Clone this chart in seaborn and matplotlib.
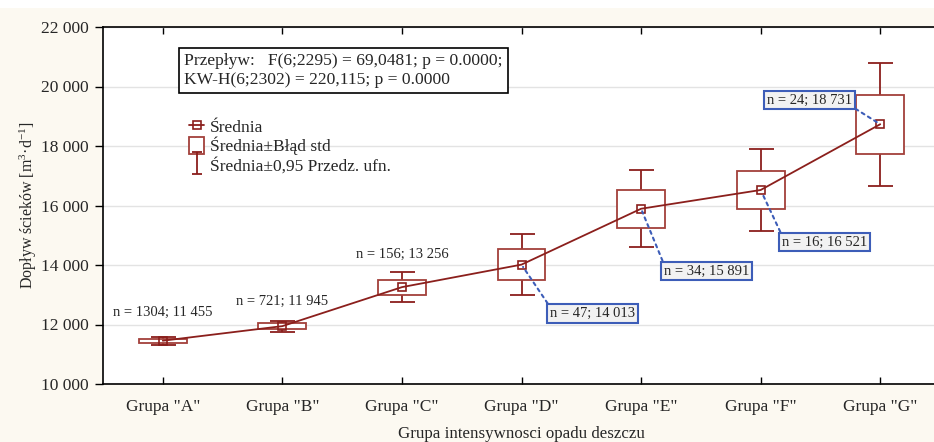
import numpy as np
import pandas as pd
import seaborn as sns
import matplotlib
matplotlib.use('Agg')
from matplotlib import pyplot as plt
from matplotlib.patches import Rectangle
from matplotlib.lines import Line2D
from matplotlib.path import Path
from matplotlib.ticker import FuncFormatter

# data
groups = ['Grupa "A"', 'Grupa "B"', 'Grupa "C"', 'Grupa "D"', 'Grupa "E"', 'Grupa "F"', 'Grupa "G"']
n_obs = [1304, 721, 156, 47, 34, 16, 24]
means = [11455, 11945, 13256, 14013, 15891, 16521, 18731]
std_err = [70, 95, 252, 514, 640, 644, 1000]
ci95 = [137, 187, 497, 1035, 1300, 1372, 2065]

stats_text = ('Przepływ:   F(6;2295) = 69,0481; p = 0.0000;\n'
              'KW-H(6;2302) = 220,115; p = 0.0000')

df = pd.DataFrame({'group': groups, 'n': n_obs, 'mean': means, 'se': std_err, 'ci': ci95})
df['pos'] = np.arange(len(df))

sns.set_style('white')
plt.rcParams['font.family'] = ['Liberation Serif', 'DejaVu Serif']
plt.rcParams['mathtext.fontset'] = 'custom'
plt.rcParams['mathtext.rm'] = 'Liberation Serif'
plt.rcParams['mathtext.it'] = 'Liberation Serif'

dark_red = '#8b1f1c'
box_red = '#a3403a'
blue = '#3d5db8'
cream = '#fcf9f1'

fig = plt.figure(figsize=(9.34, 4.42), dpi=100, facecolor=cream)
fig.patches.append(Rectangle((0, 1 - 8 / 442), 1, 8 / 442, transform=fig.transFigure,
                             facecolor='white', edgecolor='none', zorder=0))
ax = fig.add_axes([103 / 934, 58 / 442, 837 / 934, 357 / 442])
ax.set_facecolor('white')

# whiskers (95% CI)
ax.errorbar(df['pos'], df['mean'], yerr=df['ci'], fmt='none', ecolor=dark_red,
            elinewidth=1.3, capsize=9, capthick=1.3, zorder=2)

# boxes (mean ± SE)
box_w = 0.4
for _, r in df.iterrows():
    ax.add_patch(Rectangle((r['pos'] - box_w / 2, r['mean'] - r['se']), box_w, 2 * r['se'],
                           facecolor='white', edgecolor=box_red, linewidth=1.3, zorder=3))

# mean line
sns.lineplot(data=df, x='pos', y='mean', ax=ax, color=dark_red, linewidth=1.3,
             marker='s', markersize=6, markerfacecolor='none', markeredgecolor=dark_red,
             markeredgewidth=1.2, zorder=4)

# labels
labels = [f"n = {n}; {m:,}".replace(',', ' ') for n, m in zip(n_obs, means)]
plain_pos = [(0, 12390), (1, 12770), (2, 14370)]
for i, (px, py) in enumerate(plain_pos):
    ax.text(px, py, labels[i], ha='center', va='center', fontsize=10.5, zorder=5)

boxed_pos = [(3.595, 12370, (0, 1)), (4.549, 13800, (0, 1)),
             (5.535, 14775, (0, 1)), (5.407, 19545, (1, 0))]
for k, (px, py, rp) in enumerate(boxed_pos):
    i = 3 + k
    ax.annotate(labels[i], xy=(df['pos'][i], means[i]), xytext=(px, py),
                ha='center', va='center', fontsize=10.5, zorder=6,
                bbox=dict(boxstyle='square,pad=0.2', facecolor='#f2f2f2', edgecolor=blue, linewidth=1.5),
                arrowprops=dict(arrowstyle='-', linestyle=(0, (1.5, 2)), color=blue,
                                linewidth=1.5, relpos=rp, shrinkA=0, shrinkB=2))

ax.text(0.097, 0.878, stats_text, transform=ax.transAxes, ha='left', va='center', fontsize=12.6,
        linespacing=1.3, zorder=6,
        bbox=dict(boxstyle='square,pad=0.28', facecolor='white', edgecolor='black', linewidth=1.2))

# legend
whisker = Path([(-0.45, -1), (0.45, -1), (0, -1), (0, 1), (-0.45, 1), (0.45, 1)],
               [Path.MOVETO, Path.LINETO, Path.MOVETO, Path.LINETO, Path.MOVETO, Path.LINETO])
h_mean = Line2D([], [], color=dark_red, marker='s', markersize=6, markerfacecolor='none',
                markeredgewidth=1.2, linewidth=1.3)
h_box = Rectangle((0, 0), 1, 1, facecolor='white', edgecolor=box_red, linewidth=1.3)
h_ci = Line2D([], [], color=dark_red, marker=whisker, markersize=16, linestyle='none',
              markerfacecolor='none', markeredgecolor=dark_red, markeredgewidth=1.3)
ax.legend([h_mean, h_box, h_ci], ['Średnia', 'Średnia±Błąd std', 'Średnia±0,95 Przedz. ufn.'],
          loc='upper left', bbox_to_anchor=(0.088, 0.78), frameon=False, fontsize=12.5,
          handlelength=0.9, handleheight=1.1, handletextpad=0.3, labelspacing=0.05,
          borderpad=0.2)

# axes
ax.set_xlim(-0.5, 6.5)
ax.set_ylim(10000, 22000)
ax.set_yticks(np.arange(10000, 22001, 2000))
ax.yaxis.set_major_formatter(FuncFormatter(lambda v, p: f"{int(v):,}".replace(',', ' ')))
ax.set_xticks(df['pos'])
ax.set_xticklabels(groups)
ax.yaxis.grid(True, color='#e3e3e3', linewidth=1)
ax.xaxis.grid(False)
ax.tick_params(axis='x', direction='in', top=True, bottom=True, length=5, width=1,
               labelsize=12.5, pad=11, color='black')
ax.tick_params(axis='y', direction='out', left=True, length=6, width=1, labelsize=12.5, pad=4,
               color='black')
for s in ['left', 'bottom', 'top']:
    ax.spines[s].set_color('black')
    ax.spines[s].set_linewidth(1.2)
ax.spines['right'].set_visible(False)
ax.set_xlabel('Grupa intensywnosci opadu deszczu', fontsize=12.2, labelpad=8)
ax.set_ylabel('Dopływ ścieków [m$^{3}$·d$^{-1}$]', fontsize=11.5, labelpad=2)

fig.savefig('out.png', dpi=100, facecolor=cream)
